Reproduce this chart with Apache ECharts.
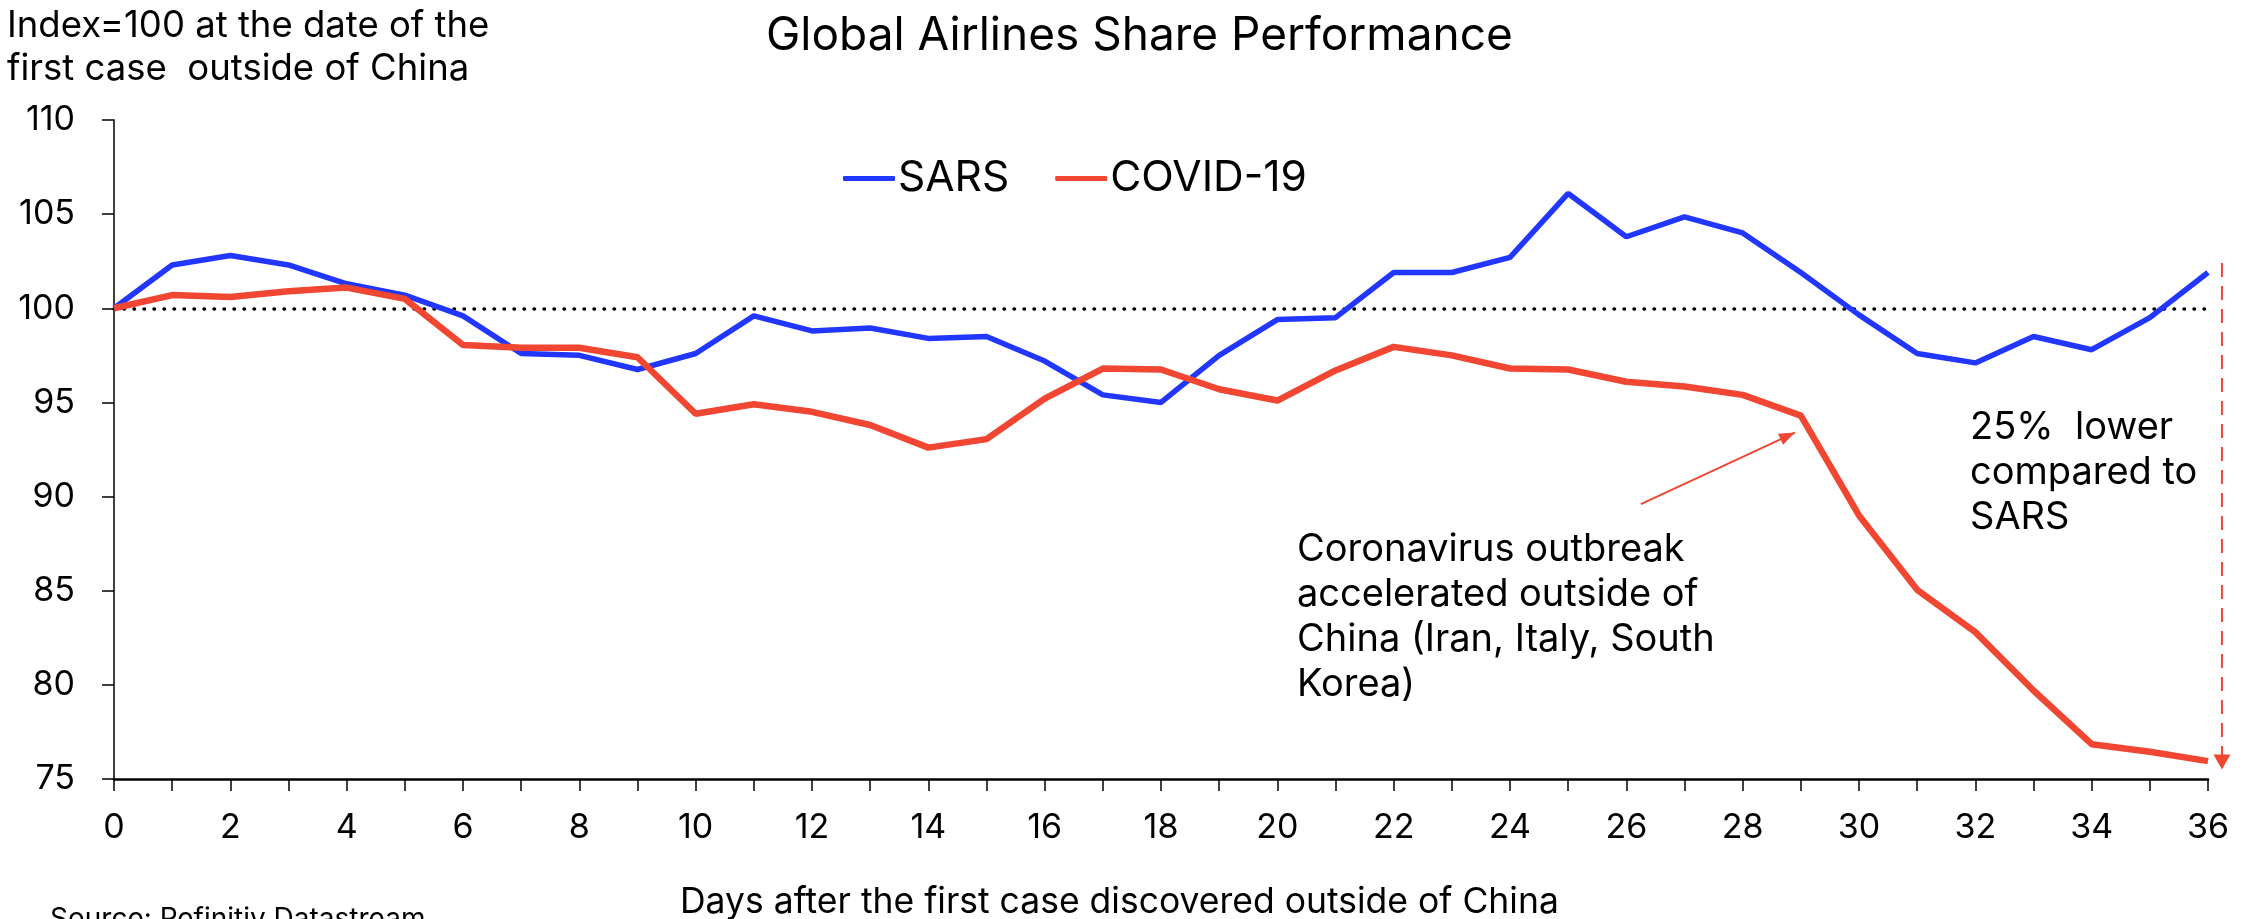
<!DOCTYPE html>
<html>
<head>
<meta charset="utf-8">
<title>Global Airlines Share Performance</title>
<script src="https://cdn.jsdelivr.net/npm/echarts@6/dist/echarts.min.js"></script>
<style>
  html, body { margin: 0; padding: 0; background: #fff; }
  #chart { width: 2252px; height: 919px; }
</style>
</head>
<body>
<div id="chart"></div>
<script>
// days after the first case outside of China
var days = [0, 1, 2, 3, 4, 5, 6, 7, 8, 9, 10, 11, 12, 13, 14, 15, 16, 17, 18,
  19, 20, 21, 22, 23, 24, 25, 26, 27, 28, 29, 30, 31, 32, 33, 34, 35, 36];
var sars = [100, 102.3, 102.8, 102.3, 101.3, 100.7, 99.6, 97.6, 97.5, 96.75,
  97.6, 99.6, 98.8, 98.95, 98.4, 98.5, 97.2, 95.4, 95.0, 97.5, 99.4, 99.5,
  101.9, 101.9, 102.7, 106.1, 103.8, 104.85, 104.0, 101.9, 99.65, 97.6, 97.1,
  98.5, 97.8, 99.5, 101.9];
var covid = [100, 100.7, 100.6, 100.9, 101.1, 100.5, 98.05, 97.9, 97.9, 97.4,
  94.4, 94.9, 94.5, 93.8, 92.6, 93.05, 95.2, 96.8, 96.75, 95.7, 95.1, 96.7,
  97.95, 97.5, 96.8, 96.75, 96.1, 95.85, 95.4, 94.3, 89.0, 85.05, 82.8, 79.7,
  76.85, 76.45, 75.95];
var baseLevel = 100;
// annotation arrows, in data coordinates [day, index]
var outbreakArrow = [[26.25, 89.6], [28.9, 93.4]];
var gapArrow = [[36.24, 102.4], [36.24, 75.5]];

var font = "Inter, 'Noto Sans', sans-serif";
var blue = "#2136ff";
var red = "#f04632";

var myChart = echarts.init(document.getElementById("chart"));

function pairs(values) {
  return values.map(function (v, i) { return [days[i], v]; });
}

var option = {
  animation: false,
  textStyle: { fontFamily: font, color: "#000" },
  title: {
    text: "Global Airlines Share Performance",
    left: 761,
    top: 8,
    textStyle: { fontFamily: font, fontSize: 46, fontWeight: "normal", color: "#000" }
  },
  legend: {
    data: ["SARS", "COVID-19"],
    left: 838,
    top: 152,
    icon: "roundRect",
    itemWidth: 52,
    itemHeight: 5,
    itemGap: 46,
    textStyle: { fontFamily: font, fontSize: 42.5, color: "#000", padding: [0, 0, 0, -2] }
  },
  grid: { left: 114, right: 44, top: 120, bottom: 140 },
  xAxis: {
    type: "value",
    min: 0,
    max: 36,
    interval: 1,
    splitLine: { show: false },
    axisLine: { lineStyle: { color: "#000", width: 2.5 } },
    axisTick: { length: 12, lineStyle: { color: "#000", width: 1.5 } },
    axisLabel: {
      margin: 32,
      fontSize: 34,
      color: "#000",
      fontFamily: font,
      formatter: function (v) { return v % 2 === 0 ? v : ""; }
    }
  },
  yAxis: {
    type: "value",
    min: 75,
    max: 110,
    interval: 5,
    splitLine: { show: false },
    axisLine: { show: true, lineStyle: { color: "#000", width: 1.5 } },
    axisTick: { show: true, length: 12, lineStyle: { color: "#000", width: 1.5 } },
    axisLabel: { margin: 39, fontSize: 34, color: "#000", fontFamily: font }
  },
  series: [
    {
      name: "SARS",
      type: "line",
      symbol: "none",
      data: pairs(sars),
      lineStyle: { color: blue, width: 5.5 },
      itemStyle: { color: blue },
      z: 3,
      markLine: {
        silent: true,
        symbol: "none",
        label: { show: false },
        lineStyle: { color: "#000", width: 3.5, type: [0.5, 9.5], cap: "round" },
        data: [{ yAxis: baseLevel }],
        z: 1
      }
    },
    {
      name: "COVID-19",
      type: "line",
      symbol: "none",
      data: pairs(covid),
      lineStyle: { color: red, width: 6.5 },
      itemStyle: { color: red },
      z: 4
    }
  ]
};

myChart.setOption(option);

// annotations: texts and arrows placed through the chart's own scales
function px(p) { return myChart.convertToPixel({ gridIndex: 0 }, p); }

function arrowHead(from, to, len, half, color) {
  var dx = to[0] - from[0], dy = to[1] - from[1];
  var d = Math.sqrt(dx * dx + dy * dy);
  var ux = dx / d, uy = dy / d;
  var bx = to[0] - ux * len, by = to[1] - uy * len;
  return {
    type: "polygon",
    shape: { points: [to, [bx - uy * half, by + ux * half], [bx + uy * half, by - ux * half]] },
    style: { fill: color }
  };
}

var o0 = px(outbreakArrow[0]), o1 = px(outbreakArrow[1]);
var g0 = px(gapArrow[0]), g1 = px(gapArrow[1]);

var label = function (text, x, y, size, lh) {
  return {
    type: "text",
    x: x,
    y: y,
    style: { text: text, fontFamily: font, fontSize: size, lineHeight: lh, fill: "#000" }
  };
};

myChart.setOption({
  graphic: [
    label("Index=100 at the date of the\nfirst case  outside of China", 7, 5, 36.5, 43),
    label("Days after the first case discovered outside of China", 680, 882, 35.5, 40),
    label("Source: Refinitiv Datastream", 50, 904, 28, 32),
    label("25%  lower\ncompared to\nSARS", 1970, 405, 38, 45),
    label("Coronavirus outbreak\naccelerated outside of\nChina (Iran, Italy, South\nKorea)", 1297, 527, 38, 45),
    {
      type: "line",
      shape: { x1: o0[0], y1: o0[1], x2: o1[0], y2: o1[1] },
      style: { stroke: red, lineWidth: 2 }
    },
    arrowHead(o0, o1, 16, 6, red),
    {
      type: "line",
      shape: { x1: g0[0], y1: g0[1], x2: g1[0], y2: g1[1] - 12 },
      style: { stroke: red, lineWidth: 2, lineDash: [14, 9] }
    },
    arrowHead(g0, g1, 15, 8.5, red)
  ]
});
</script>
</body>
</html>
